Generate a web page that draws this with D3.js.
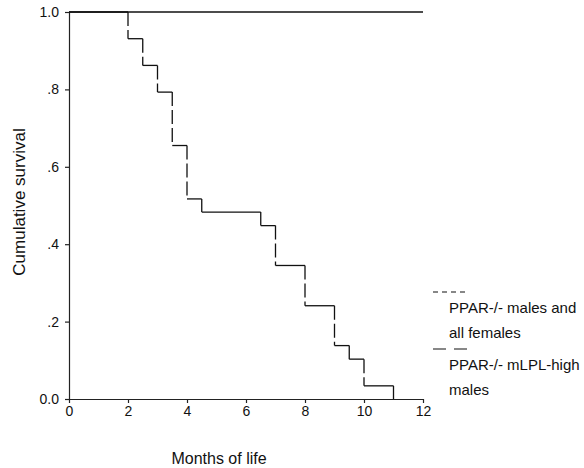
<!DOCTYPE html>
<html>
<head>
<meta charset="utf-8">
<script src="https://cdn.jsdelivr.net/npm/d3@7"></script>
<style>
  body { margin: 0; background: #fff; }
  text { font-family: "Liberation Sans", Arial, sans-serif; fill: #111; }
</style>
</head>
<body>
<div id="chart"></div>
<script>
// Kaplan-Meier steps (months, survival)
const highMonths = [0, 2, 2.5, 3, 3.5, 4, 4.5, 6.5, 7, 8, 9, 9.5, 10, 11];
const highSurv = [1.0, 0.931, 0.862, 0.793, 0.655, 0.517, 0.483, 0.448, 0.345, 0.241, 0.138, 0.103, 0.034, 0.0];
const otherMonths = [0, 12];
const otherSurv = [1.0, 1.0];

const xTicks = [0, 2, 4, 6, 8, 10, 12];
const yTicks = [0, 0.2, 0.4, 0.6, 0.8, 1.0];
const yTickLabels = ["0.0", ".2", ".4", ".6", ".8", "1.0"];

const legendLabels = [["PPAR-/- males and", "all females"], ["PPAR-/- mLPL-high", "males"]];

const W = 584, H = 468;
const margin = { top: 12, left: 69, right: 161, bottom: 69 };
const width = W - margin.left - margin.right,
      height = H - margin.top - margin.bottom;

const svg = d3.select("#chart").append("svg")
    .attr("width", W)
    .attr("height", H);

const g = svg.append("g")
    .attr("transform", `translate(${margin.left},${margin.top})`);

const x = d3.scaleLinear().domain([0, 12]).range([0, width]);
const y = d3.scaleLinear().domain([0, 1]).range([height, 0]);

// axes
const xAxis = g.append("g")
    .attr("transform", `translate(0,${height})`)
    .call(d3.axisBottom(x).tickValues(xTicks).tickSize(4).tickPadding(3).tickSizeOuter(0));
const yAxis = g.append("g")
    .call(d3.axisLeft(y).tickValues(yTicks).tickFormat((d, i) => yTickLabels[i]).tickSize(4).tickPadding(6).tickSizeOuter(0));

[xAxis, yAxis].forEach(a => {
  a.selectAll("path, line").attr("stroke", "#222").attr("stroke-width", 1.2);
  a.selectAll("text").style("font-size", "14px").attr("fill", "#111");
});

// other group: flat at 1.0
g.append("path")
    .attr("d", d3.line().curve(d3.curveStepAfter)(otherMonths.map((m, i) => [x(m), y(otherSurv[i])])))
    .attr("fill", "none")
    .attr("stroke", "#111")
    .attr("stroke-width", 1.3);

// high group: horizontals solid, verticals dashed
const steps = highMonths.map((m, i) => ({ m, s: highSurv[i] }));
steps.slice(0, -1).forEach((d, i) => {
  const nx = steps[i + 1];
  g.append("line")
      .attr("x1", x(d.m)).attr("x2", x(nx.m))
      .attr("y1", y(d.s)).attr("y2", y(d.s))
      .attr("stroke", "#111").attr("stroke-width", 1.3);
  g.append("line")
      .attr("x1", x(nx.m)).attr("x2", x(nx.m))
      .attr("y1", y(d.s)).attr("y2", y(nx.s))
      .attr("stroke", "#111").attr("stroke-width", 1.3)
      .attr("stroke-dasharray", "14,4");
});

// axis labels
svg.append("text")
    .attr("text-anchor", "middle")
    .attr("x", 219)
    .attr("y", 464)
    .style("font-size", "16px")
    .text("Months of life");

svg.append("text")
    .attr("text-anchor", "middle")
    .attr("transform", "rotate(-90)")
    .attr("x", -202)
    .attr("y", 25)
    .style("font-size", "17px")
    .text("Cumulative survival");

// legend
const legX = 433, textX = 449;
const leg = svg.append("g");
[[292, "5,4"], [349, "13,8"]].forEach(([ly, dash], i) => {
  leg.append("line")
      .attr("x1", legX).attr("x2", legX + 34)
      .attr("y1", ly).attr("y2", ly)
      .attr("stroke", "#111").attr("stroke-width", 1.2)
      .attr("stroke-dasharray", dash);
  legendLabels[i].forEach((t, j) => {
    leg.append("text")
        .attr("x", textX)
        .attr("y", ly + 21 + j * 25)
        .style("font-size", "15px")
        .text(t);
  });
});
</script>
</body>
</html>
